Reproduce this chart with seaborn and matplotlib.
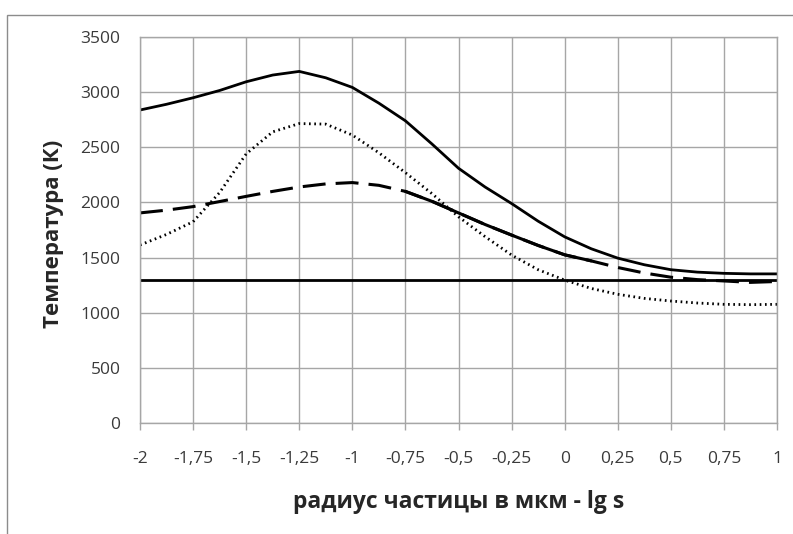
import matplotlib
matplotlib.use("Agg")
import matplotlib.pyplot as plt
import seaborn as sns
import numpy as np
import pandas as pd
from matplotlib.patches import Rectangle

# lg of particle radius (µm)
x_vals = [-2.0, -1.875, -1.75, -1.625, -1.5, -1.375, -1.25, -1.125, -1.0,
          -0.875, -0.75, -0.625, -0.5, -0.375, -0.25, -0.125, 0.0,
          0.125, 0.25, 0.375, 0.5, 0.625, 0.75, 0.875, 1.0]

# temperature curves, K
t_upper = [2838, 2890, 2949, 3015, 3094, 3155, 3188, 3130, 3043,
           2900, 2740, 2530, 2310, 2140, 1990, 1830, 1688,
           1580, 1495, 1435, 1390, 1368, 1357, 1352, 1352]
t_dotted = [1614, 1710, 1825, 2090, 2440, 2640, 2715, 2710, 2611,
            2450, 2270, 2080, 1870, 1690, 1523, 1390, 1296,
            1220, 1167, 1130, 1106, 1088, 1076, 1073, 1076]
t_dashed = [1905, 1930, 1962, 2008, 2055, 2100, 2140, 2168, 2180,
            2155, 2100, 2010, 1905, 1800, 1704, 1610, 1525,
            1470, 1410, 1360, 1322, 1300, 1288, 1275, 1283]
t_base = [1300] * len(x_vals)

x_ticks = [-2, -1.75, -1.5, -1.25, -1, -0.75, -0.5, -0.25, 0, 0.25, 0.5, 0.75, 1]
x_tick_labels = ["-2", "-1,75", "-1,5", "-1,25", "-1", "-0,75", "-0,5", "-0,25",
                 "0", "0,25", "0,5", "0,75", "1"]
y_ticks = [0, 500, 1000, 1500, 2000, 2500, 3000, 3500]

sns.set_style("white")
plt.rcParams["font.family"] = ["Open Sans", "DejaVu Sans"]

fig = plt.figure(figsize=(7.93, 5.34), dpi=100)
ax = fig.add_axes([140 / 793, 1 - 423 / 534, 637 / 793, 386 / 534])

df = pd.DataFrame({"x": x_vals, "upper": t_upper, "dotted": t_dotted,
                   "dashed": t_dashed, "base": t_base})

sns.lineplot(data=df, x="x", y="base", ax=ax, color="black", lw=2.0)
sns.lineplot(data=df, x="x", y="dotted", ax=ax, color="black", lw=2.0,
             linestyle=(0, (0.6, 1.3)))
sns.lineplot(data=df, x="x", y="dashed", ax=ax, color="black", lw=2.2)
ax.lines[-1].set_dashes((7.5, 3.3))
# the dashed curve runs solid through its middle stretch
seg = df[(df["x"] >= -0.75) & (df["x"] <= 0.125)]
sns.lineplot(data=seg, x="x", y="dashed", ax=ax, color="black", lw=2.2)
sns.lineplot(data=df, x="x", y="upper", ax=ax, color="black", lw=2.0)

ax.set_xlim(-2, 1)
ax.set_ylim(0, 3500)
ax.set_xticks(x_ticks)
ax.set_xticklabels(x_tick_labels)
ax.set_yticks(y_ticks)
ax.grid(True, color="#a6a6a6", lw=1.0)
ax.set_axisbelow(True)
for s in ax.spines.values():
    s.set_color("#a6a6a6")
    s.set_linewidth(1.0)

ax.tick_params(axis="x", bottom=True, length=5, width=1.0, color="#a6a6a6",
               pad=15, labelsize=12.5, labelcolor="#3a3a3a")
ax.tick_params(axis="y", left=False, length=0, pad=14, labelsize=12.5,
               labelcolor="#3a3a3a")

ax.set_xlabel("радиус частицы в мкм - lg s", fontsize=16.5, fontweight="bold",
              labelpad=17)
ax.set_ylabel("Температура (К)", fontsize=16, fontweight="bold")
ax.yaxis.set_label_coords(-0.12, 0.49)

# chart area frame
fig.patches.append(Rectangle((7 / 793, -0.05), 1.0, 1 - 15 / 534 + 0.05,
                             transform=fig.transFigure, fill=False,
                             edgecolor="#8c8c8c", lw=1.0))

fig.savefig("out.png", dpi=100)
